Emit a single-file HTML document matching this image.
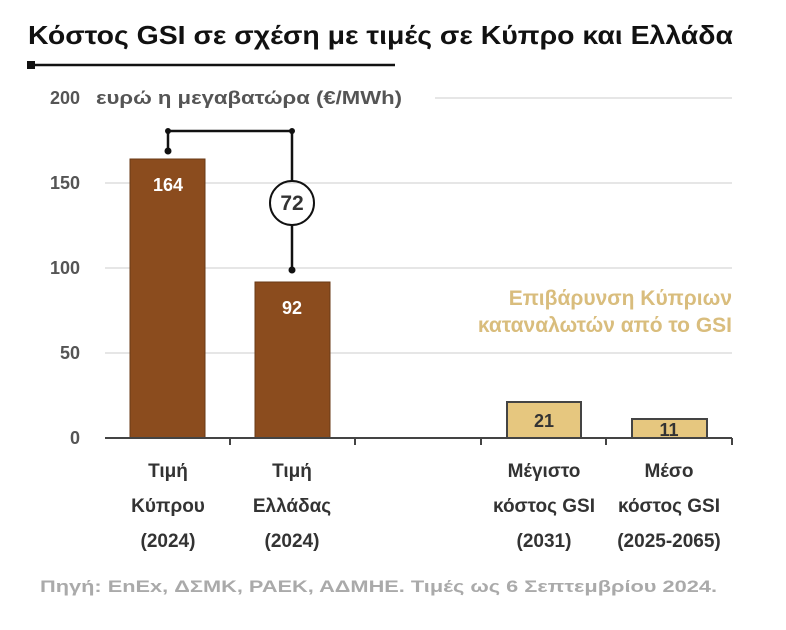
<!DOCTYPE html>
<html><head><meta charset="utf-8"><style>
body{margin:0;background:#fff;width:786px;height:625px;overflow:hidden}
svg text{font-family:"Liberation Sans","DejaVu Sans",sans-serif;font-weight:bold}
</style></head><body>
<svg width="786" height="625" xmlns="http://www.w3.org/2000/svg">
<text x="28" y="44" font-size="26" fill="#111" textLength="705" lengthAdjust="spacingAndGlyphs">Κόστος GSI σε σχέση με τιμές σε Κύπρο και Ελλάδα</text>
<rect x="27" y="61" width="8" height="8" fill="#111"/>
<line x1="31" y1="65" x2="395" y2="65" stroke="#111" stroke-width="2.5"/>
<g stroke="#ddd" stroke-width="1.5">
<line x1="435" y1="98" x2="732" y2="98"/>
<line x1="105" y1="183" x2="732" y2="183"/>
<line x1="105" y1="268" x2="732" y2="268"/>
<line x1="105" y1="353" x2="732" y2="353"/>
</g>
<g font-size="18" fill="#555" text-anchor="end">
<text x="80" y="104">200</text><text x="80" y="189">150</text><text x="80" y="274">100</text><text x="80" y="359">50</text><text x="80" y="444">0</text>
</g>
<text x="96" y="104" font-size="18" fill="#555" textLength="306" lengthAdjust="spacingAndGlyphs">ευρώ η μεγαβατώρα (€/MWh)</text>
<rect x="130" y="159" width="75" height="279" fill="#8b4c1e" stroke="#6a3a16"/>
<rect x="255" y="282" width="75" height="156" fill="#8b4c1e" stroke="#6a3a16"/>
<rect x="507" y="402" width="74" height="36" fill="#e6c77f" stroke="#444" stroke-width="2"/>
<rect x="632" y="419" width="75" height="19" fill="#e6c77f" stroke="#444" stroke-width="2"/>
<g font-size="18" text-anchor="middle">
<text x="168" y="191" fill="#fff">164</text>
<text x="292" y="314" fill="#fff">92</text>
<text x="544" y="427" fill="#333">21</text>
<text x="669" y="436" fill="#333">11</text>
</g>
<g stroke="#444" stroke-width="2">
<line x1="105" y1="438" x2="732" y2="438"/>
<line x1="230" y1="438" x2="230" y2="445"/><line x1="355" y1="438" x2="355" y2="445"/>
<line x1="481" y1="438" x2="481" y2="445"/><line x1="606" y1="438" x2="606" y2="445"/><line x1="732" y1="438" x2="732" y2="445"/>
</g>
<g stroke="#111" stroke-width="2.5" fill="none">
<polyline points="168,151 168,131 292,131 292,181"/>
<line x1="292" y1="225" x2="292" y2="270"/>
<circle cx="292" cy="203" r="22" stroke-width="2"/>
</g>
<g fill="#111"><circle cx="168" cy="131" r="3"/><circle cx="292" cy="131" r="3"/><circle cx="168" cy="151" r="3.5"/><circle cx="292" cy="270" r="3.5"/></g>
<text x="292" y="210" font-size="21" fill="#333" text-anchor="middle">72</text>
<g font-size="21" fill="#d9bd7d" text-anchor="end">
<text x="732" y="305">Επιβάρυνση Κύπριων</text>
<text x="732" y="332">καταναλωτών από το GSI</text>
</g>
<g font-size="19" fill="#333" text-anchor="middle">
<text x="168" y="477">Τιμή</text><text x="168" y="512">Κύπρου</text><text x="168" y="547">(2024)</text>
<text x="292" y="477">Τιμή</text><text x="292" y="512">Ελλάδας</text><text x="292" y="547">(2024)</text>
<text x="544" y="477">Μέγιστο</text><text x="544" y="512">κόστος GSI</text><text x="544" y="547">(2031)</text>
<text x="669" y="477">Μέσο</text><text x="669" y="512">κόστος GSI</text><text x="669" y="547">(2025-2065)</text>
</g>
<text x="40" y="592" font-size="17" fill="#aaa" textLength="677" lengthAdjust="spacingAndGlyphs">Πηγή: EnEx, ΔΣΜΚ, ΡΑΕΚ, ΑΔΜΗΕ. Τιμές ως 6 Σεπτεμβρίου 2024.</text>
</svg>
</body></html>
